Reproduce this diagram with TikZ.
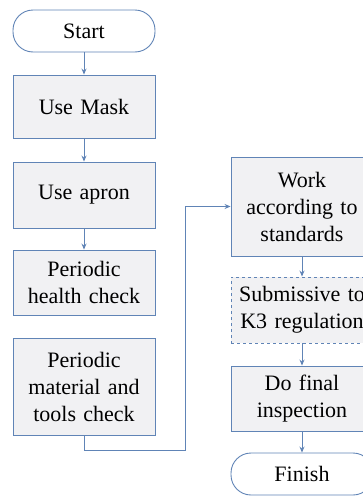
\documentclass[tikz,border=0pt]{standalone}
\usepackage{fontspec}
\setmainfont{Liberation Serif}
\usepackage{xcolor}
\usetikzlibrary{positioning, arrows.meta, shapes.geometric}
\definecolor{edgeblue}{RGB}{96,132,182}
\definecolor{boxfill}{RGB}{241,241,243}
\begin{document}
\begin{tikzpicture}[x=1pt, y=1pt,
    stepbox/.style={draw=edgeblue, fill=boxfill, line width=0.9pt,
      minimum width=142pt, text width=136pt, align=center, inner sep=0pt,
      font=\fontsize{22}{27}\selectfont},
    terminal/.style={stepbox, rounded corners=20pt, minimum height=42pt, fill=white},
    link/.style={draw=edgeblue, line width=0.9pt, -{Stealth[length=6pt, width=5pt]}}]
  \useasboundingbox (0,0) rectangle (363,-498);
  \clip (0,0) rectangle (363,-498);
  % Left column
  \node[terminal] (start) at (84,-31) {Start};
  \node[stepbox, minimum height=63pt] (mask) at (84,-106.5) {Use Mask};
  \node[stepbox, minimum height=66pt] (apron) at (84,-195) {Use apron};
  \node[stepbox, minimum height=65pt] (health) at (84,-282.5) {Periodic\\health check};
  \node[stepbox, minimum height=97pt] (material) at (84,-386.5)
    {Periodic\\material and\\tools check};
  % Right column
  \node[stepbox, minimum height=99pt] (work) at (302,-206.5)
    {Work\\according to\\standards};
  \node[stepbox, dashed, minimum height=66pt] (submit) at (302,-310)
    {Submissive to\\K3 regulation};
  \node[stepbox, minimum height=65pt] (final) at (302,-398.5) {Do final\\inspection};
  \node[terminal] (finish) at (302,-474) {Finish};
  % Connectors
  \draw[link] (start) -- (mask);
  \draw[link] (mask) -- (apron);
  \draw[link] (apron) -- (health);
  \coordinate (bend) at (185,-450);
  \draw[link] (material.south) |- (bend) |- (work.west);
  \draw[link] (work) -- (submit);
  \draw[link] (submit) -- (final);
  \draw[link] (final) -- (finish);
\end{tikzpicture}
\end{document}
